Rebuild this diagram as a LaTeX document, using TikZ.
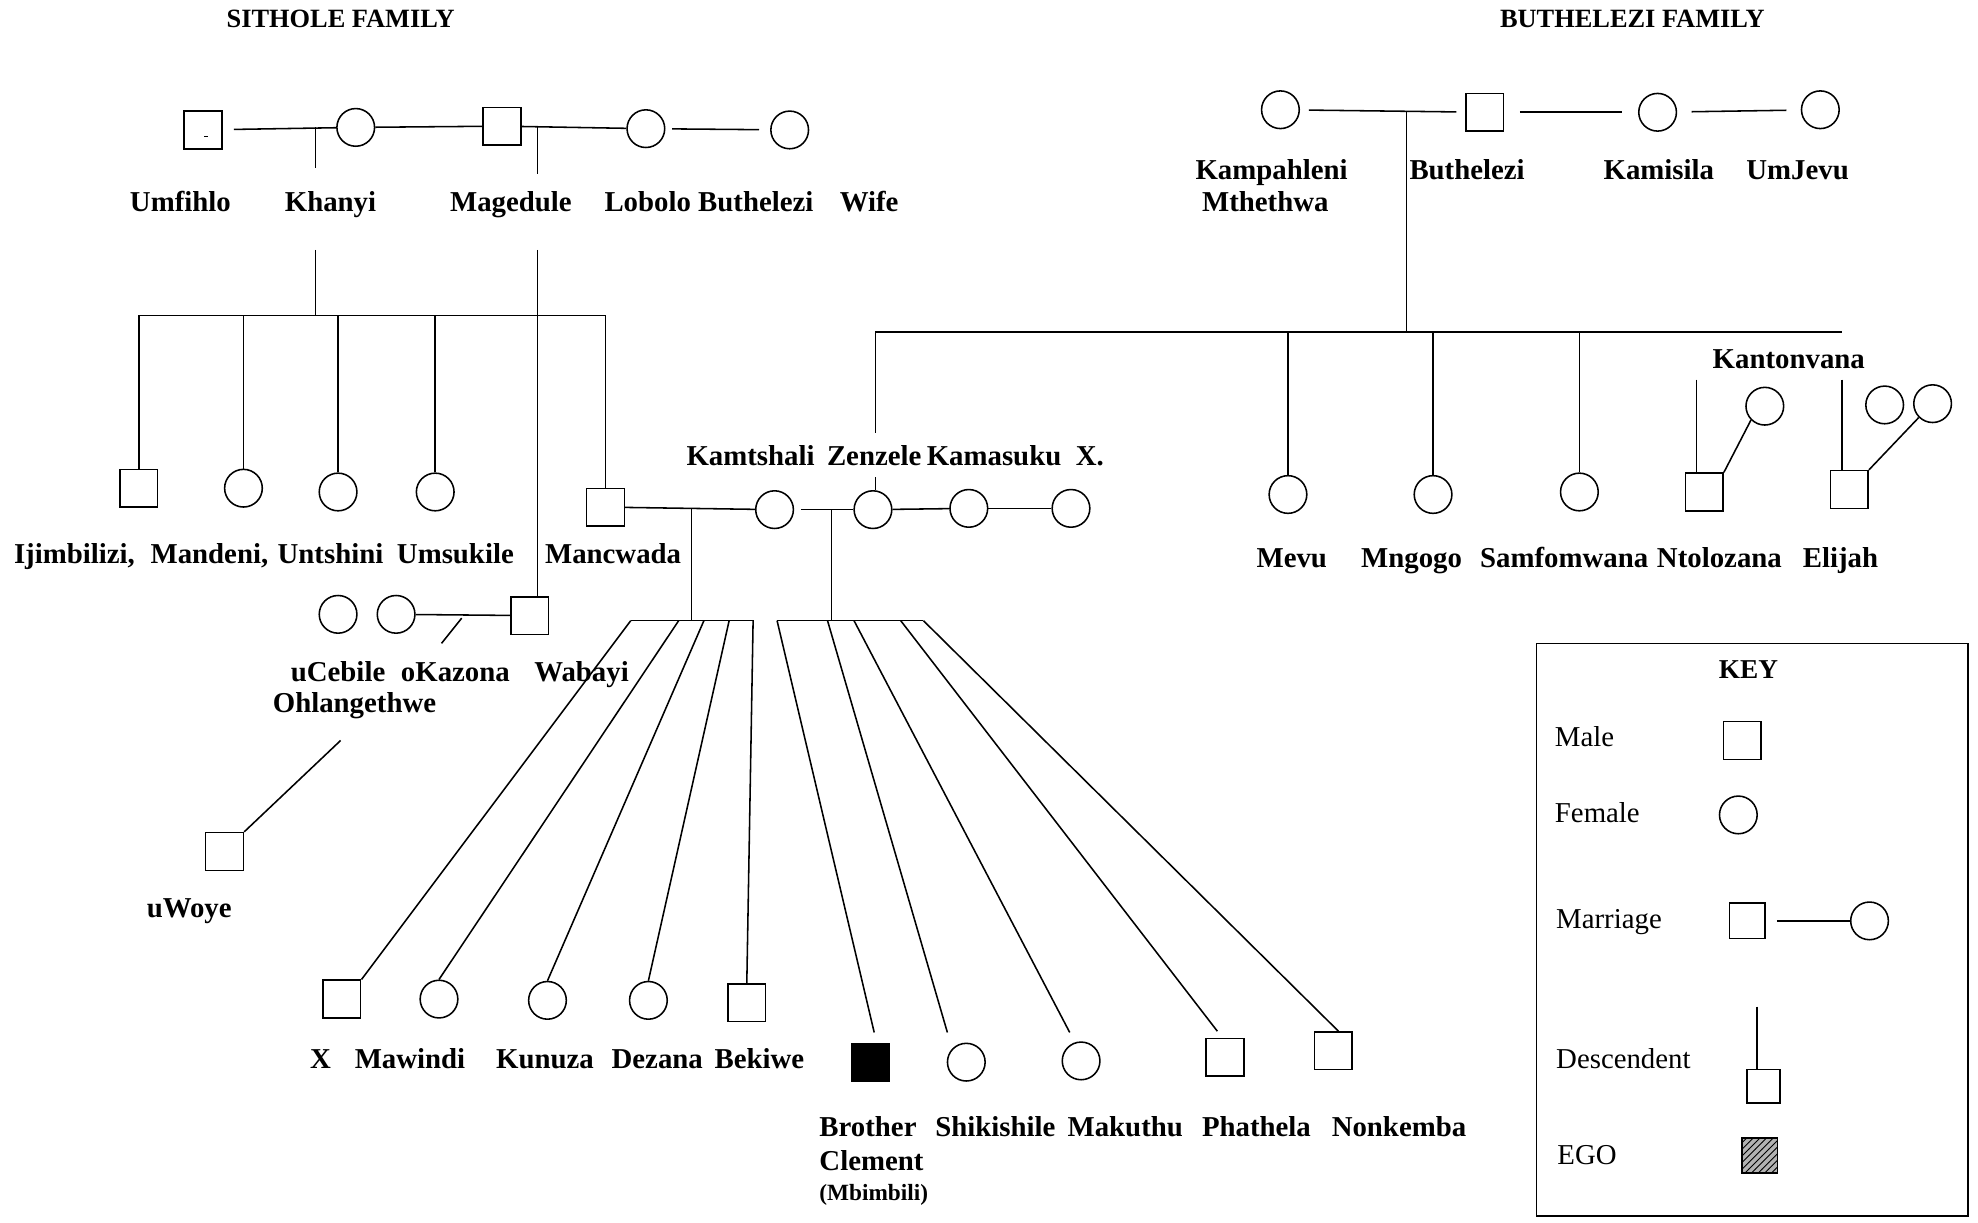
\documentclass[tikz,border=0pt]{standalone}
\usepackage{fontspec}
\setmainfont{Liberation Serif}
\usetikzlibrary{positioning, calc, patterns}

\begin{document}
\begin{tikzpicture}[x=0.02cm, y=-0.02cm, line width=0.7pt,
  male/.style={rectangle, draw, minimum size=17pt, inner sep=0pt},
  female/.style={circle, draw, minimum size=17pt, inner sep=0pt},
  ego/.style={male, fill=black},
  lbl/.style={font=\fontsize{13}{15}\selectfont\bfseries, inner sep=0pt, anchor=base},
  famtitle/.style={font=\fontsize{11.9}{14}\selectfont\bfseries, inner sep=0pt, anchor=base},
  keylbl/.style={font=\fontsize{13}{15}\selectfont, inner sep=0pt, anchor=base west}
]
\useasboundingbox (0,0) rectangle (1568,969);

% Sithole family, first generation
\node[famtitle] (sitholet) at (270,22) {SITHOLE FAMILY};
\node[male]   (umfihlo)  at (161,103) {};
\node[female] (khanyi)   at (282,101) {};
\node[male]   (magedule) at (398,100) {};
\node[female] (lobolo)   at (512,102) {};
\node[female] (wife)     at (626,103) {};
\draw[line width=0.5pt] ($(umfihlo.center)+(1,5)$) -- ++(3,0);
\draw[shorten <=5pt] (umfihlo) -- (khanyi);
\draw (khanyi) -- (magedule);
\draw (magedule) -- (lobolo);
\draw[shorten <=3pt, shorten >=5pt] (lobolo) -- (wife);
\node[lbl] (l-umfihlo)  at (143,168) {Umfihlo};
\node[lbl] (l-khanyi)   at (262,168) {Khanyi};
\node[lbl] (l-magedule) at (405,168) {Magedule};
\node[lbl] (l-lobolo)   at (562,168) {Lobolo Buthelezi};
\node[lbl] (l-wife)     at (689,168) {Wife};

% descent lines
\coordinate (kh1) at (250,101);
\coordinate (kh2) at (250,133);
\coordinate (kh3) at (250,198);
\coordinate (mg1) at (426,101);
\coordinate (mg2) at (426,138);
\coordinate (mg3) at (426,198);
\draw (kh1) -- (kh2);
\draw (mg1) -- (mg2);

% Khanyi's children
\coordinate (khL) at (110,250);
\coordinate (khR) at (480,250);
\draw (kh3) -- (kh3 |- khL);
\draw (khL) -- (khR);
\node[male]   (ijim)     at (110,387) {};
\node[female] (mandeni)  at (193,387) {};
\node[female] (untshini) at (268,390) {};
\node[female] (umsukile) at (345,390) {};
\node[male]   (mancwada) at (480,402) {};
\foreach \c in {ijim,mandeni,untshini,umsukile,mancwada}
  \draw (\c.north) -- (\c.north |- khL);
\node[lbl] (l-ijim)     at (59,447)  {Ijimbilizi,};
\node[lbl] (l-mandeni)  at (166,447) {Mandeni,};
\node[lbl] (l-untshini) at (262,447) {Untshini};
\node[lbl] (l-umsukile) at (361,447) {Umsukile};
\node[lbl] (l-mancwada) at (486,447) {Mancwada};

% Wabayi
\node[female] (ucebile) at (268,487) {};
\node[female] (okazona) at (314,487) {};
\node[male]   (wabayi)  at (420,488) {};
\draw (mg3) -- (mg3 |- wabayi.north);
\draw (okazona) -- (wabayi);
\coordinate (wb1) at (366,490);
\coordinate (wb2) at (350,510);
\draw (wb1) -- (wb2);
\node[lbl] (l-ucebile) at (268,540) {uCebile};
\node[lbl] (l-okazona) at (361,540) {oKazona};
\node[lbl] (l-wabayi)  at (461,540) {Wabayi};
\node[lbl] (l-ohlang)  at (281,565) {Ohlangethwe};
\node[male] (uwoye) at (178,675) {};
\coordinate (uw1) at (270,587);
\draw (uw1) -- (uwoye.north east);
\node[lbl] (l-uwoye) at (150,727) {uWoye};

% Mancwada's wives
\node[female] (kamtshali) at (614,404) {};
\node[female] (zenzele)   at (692,404) {};
\node[female] (kamasuku)  at (768,403) {};
\node[female] (xwife)     at (849,403) {};
\draw (mancwada) -- (kamtshali);
\draw[shorten <=3pt] (kamtshali) -- (zenzele);
\draw (zenzele) -- (kamasuku);
\draw (kamasuku) -- (xwife);
\node[lbl] (l-kamtshali) at (595,369) {Kamtshali};
\node[lbl] (l-zenzele)   at (693,369) {Zenzele};
\node[lbl] (l-kamasuku)  at (788,369) {Kamasuku};
\node[lbl] (l-xwife)     at (864,369) {X.};

% Kamtshali's children
\coordinate (ka0) at (548,403);
\draw (ka0) -- (548,492);
\draw (500,492) coordinate (kaL) -- (598,492) coordinate (kaR);
\foreach \x [count=\i] in {500,538,558,578,597}
  \coordinate (ka\i) at (\x,492);
\node[male]   (xchild)  at (271,792) {};
\node[female] (mawindi) at (348,792) {};
\node[female] (kunuza)  at (434,793) {};
\node[female] (dezana)  at (514,793) {};
\node[male]   (bekiwe)  at (592,795) {};
\draw (ka1) -- (xchild.north east);
\draw (ka2) -- (mawindi.north);
\draw (ka3) -- (kunuza.north);
\draw (ka4) -- (dezana.north);
\draw (ka5) -- (bekiwe.north);
\node[lbl] (l-xchild)  at (254,847) {X};
\node[lbl] (l-mawindi) at (325,847) {Mawindi};
\node[lbl] (l-kunuza)  at (432,847) {Kunuza};
\node[lbl] (l-dezana)  at (521,847) {Dezana};
\node[lbl] (l-bekiwe)  at (602,847) {Bekiwe};

% Zenzele's children
\coordinate (ze0) at (659,404);
\draw (ze0) -- (659,492);
\draw (616,492) coordinate (zeL) -- (732,492) coordinate (zeR);
\foreach \x [count=\i] in {616,656,677,714,732}
  \coordinate (ze\i) at (\x,492);
\node[ego]    (brother)   at (690,842) {};
\node[female] (shikishile) at (766,842) {};
\node[female] (makuthu)   at (857,841) {};
\node[male]   (phathela)  at (971,838) {};
\node[male]   (nonkemba)  at (1057,833) {};
\draw (ze1) -- ($(brother.north)+(3,-8)$);
\draw (ze2) -- ($(shikishile.north)+(-15,-8)$);
\draw (ze3) -- ($(makuthu.north)+(-9,-7)$);
\draw (ze4) -- ($(phathela.north)+(-6,-5)$);
\draw (ze5) -- ($(nonkemba.north)+(4,0)$);
\node[lbl, anchor=base west] (l-brother) at (649,901) {Brother};
\node[lbl, anchor=base west] (l-clement) at (649,928) {Clement};
\node[lbl, anchor=base west, font=\fontsize{10.5}{12}\selectfont\bfseries] (l-mbimbili) at (649,952) {(Mbimbili)};
\node[lbl] (l-shikishile) at (789,901) {Shikishile};
\node[lbl] (l-makuthu)    at (892,901) {Makuthu};
\node[lbl] (l-phathela)   at (996,901) {Phathela};
\node[lbl] (l-nonkemba)   at (1109,901) {Nonkemba};

% Buthelezi family
\node[famtitle] (buthelezit) at (1294,22) {BUTHELEZI FAMILY};
\node[female] (kampahleni) at (1015,87) {};
\node[male]   (buthelezi)  at (1177,89) {};
\node[female] (kamisila)   at (1314,89) {};
\node[female] (umjevu)     at (1443,87) {};
\draw[shorten <=4pt, shorten >=4pt] (kampahleni) -- (buthelezi);
\draw[shorten <=7pt, shorten >=7pt] (buthelezi) -- (kamisila);
\draw[shorten <=6.5pt, shorten >=6.5pt] (kamisila) -- (umjevu);
\node[lbl] (l-kampahleni) at (1008,142) {Kampahleni};
\node[lbl] (l-mthethwa)   at (1003,168) {Mthethwa};
\node[lbl] (l-buthelezi)  at (1163,142) {Buthelezi};
\node[lbl] (l-kamisila)   at (1315,142) {Kamisila};
\node[lbl] (l-umjevu)     at (1425,142) {UmJevu};

% Buthelezi's children
\coordinate (bu0) at (1115,88);
\coordinate (buL) at (694,263);
\coordinate (buR) at (1460,263);
\draw (bu0) -- (bu0 |- buL);
\draw (buL) -- (buR);
\coordinate (bz2) at (694,343);
\draw (buL) -- (bz2);
\draw ($(zenzele.north)+(2,-10)$) -- ($(zenzele.north)+(2,0)$);
\node[female] (mevu)       at (1021,392) {};
\node[female] (mngogo)     at (1136,392) {};
\node[female] (samfomwana) at (1252,390) {};
\foreach \c in {mevu,mngogo,samfomwana}
  \draw (\c.north) -- (\c.north |- buL);
\node[male]   (ntolozana) at (1351,390) {};
\node[female] (ntwife)    at (1399,322) {};
\node[male]   (elijah)    at (1466,388) {};
\node[female] (ejwifea)   at (1494,321) {};
\node[female] (ejwifeb)   at (1532,320) {};
\coordinate (nt0) at (1345,301);
\coordinate (ej0) at (1460,301);
\draw (nt0) -- (nt0 |- ntolozana.north);
\draw (ej0) -- (ej0 |- elijah.north);
\draw (ntolozana.north east) -- (ntwife.south west);
\draw (elijah.north east) -- (ejwifeb.south west);
\node[lbl] (l-kantonvana) at (1418,292) {Kantonvana};
\node[lbl] (l-mevu)       at (1024,450) {Mevu};
\node[lbl] (l-mngogo)     at (1119,450) {Mngogo};
\node[lbl] (l-samfomwana) at (1240,450) {Samfomwana};
\node[lbl] (l-ntolozana)  at (1363,450) {Ntolozana};
\node[lbl] (l-elijah)     at (1459,450) {Elijah};

% key
\draw (1218,510) rectangle (1560,964);
\node[lbl, font=\fontsize{12.3}{14}\selectfont\bfseries] (keyt) at (1386,538) {KEY};
\node[keylbl] (k-male) at (1232,592) {Male};
\node[male]   (k-msym) at (1381,587) {};
\node[keylbl] (k-fem)  at (1232,652) {Female};
\node[female] (k-fsym) at (1378,646) {};
\node[keylbl] (k-mar)  at (1233,736) {Marriage};
\node[male, minimum size=16pt]   (k-marm) at (1385,730) {};
\node[female] (k-marf) at (1482,730) {};
\draw[shorten <=5pt] (k-marm) -- (k-marf);
\node[keylbl] (k-desc) at (1233,847) {Descendent};
\node[male, minimum size=15pt] (k-dsym) at (1398,861) {};
\coordinate (k-dtop) at (1393,798);
\draw (k-dtop) -- (k-dtop |- k-dsym.north);
\node[keylbl] (k-ego)  at (1234,923) {EGO};
\node[male, minimum size=16pt, fill=gray!60, postaction={pattern=north east lines}] (k-esym) at (1395,916) {};
\end{tikzpicture}
\end{document}
